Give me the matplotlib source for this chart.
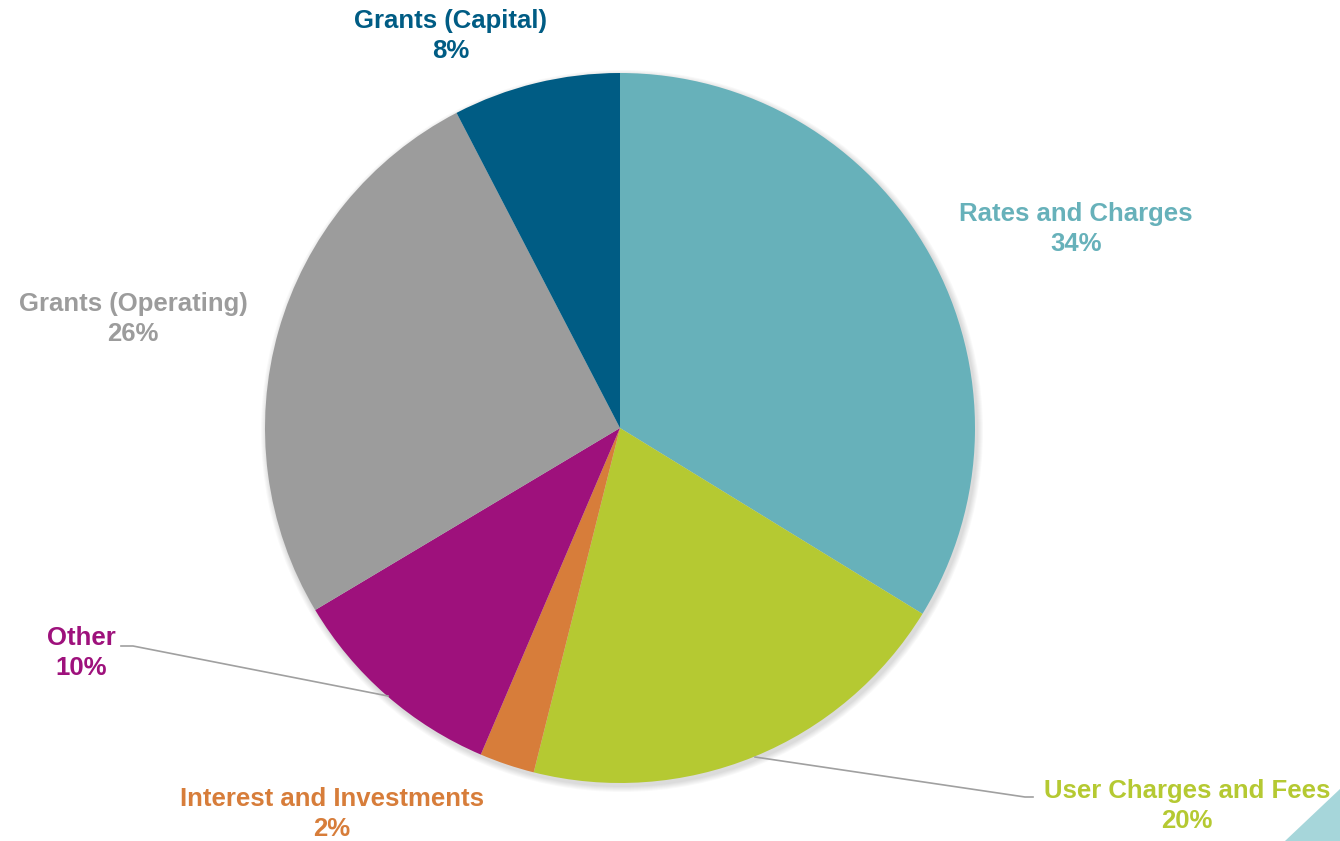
import matplotlib
matplotlib.use("Agg")
import matplotlib.pyplot as plt
from matplotlib.patches import Circle, Polygon

# データ（画像から読み取った割合）
labels = ["Rates and Charges", "User Charges and Fees", "Interest and Investments",
          "Other", "Grants (Operating)", "Grants (Capital)"]
values = [33.7, 20.1, 2.5, 10.0, 25.9, 7.6]
pct_text = ["34%", "20%", "2%", "10%", "26%", "8%"]
colors = ["#67B1BA", "#B5C932", "#D77D3A", "#9E117C", "#9C9C9C", "#005C84"]

# ラベル位置（ピクセル座標, 上から）
label_pos = [(1076, 229), (1187, 806), (332, 814), (81, 653), (133, 319), (451, 36)]

W, H = 1340, 841
plt.rcParams['font.family'] = ['Liberation Sans', 'DejaVu Sans']

fig = plt.figure(figsize=(W / 100, H / 100), dpi=100)
ax = fig.add_axes([0, 0, 1, 1])

cx, cy, r = 620, H - 428, 355

# 影（ぼかし風）
for i in range(6):
    ax.add_patch(Circle((cx + 2, cy - 3), r + 1 + i, color='black',
                        alpha=0.025, lw=0, zorder=0))

ax.pie(values, colors=colors, startangle=90, counterclock=False,
       center=(cx, cy), radius=r, frame=True,
       wedgeprops=dict(linewidth=0))
ax.set_xlim(0, W)
ax.set_ylim(0, H)
ax.set_aspect('equal')
ax.axis('off')

# ラベル
for lab, pt, col, (x, y) in zip(labels, pct_text, colors, label_pos):
    ax.text(x, H - y, f"{lab}\n{pt}", color=col, fontsize=18.5,
            fontweight='bold', ha='center', va='center', linespacing=1.35)

# 引き出し線
ax.plot([121, 133, 388], [H - 646, H - 646, H - 696], color='#A0A0A0', lw=1.2)
ax.plot([755, 1025, 1033], [H - 757, H - 797, H - 797], color='#A0A0A0', lw=1.2)

# 右下の装飾
ax.add_patch(Polygon([(1285, 0), (W, 52), (W, 0)], closed=True,
                     color='#A6D6DA', lw=0))

fig.savefig("out.png", dpi=100)
